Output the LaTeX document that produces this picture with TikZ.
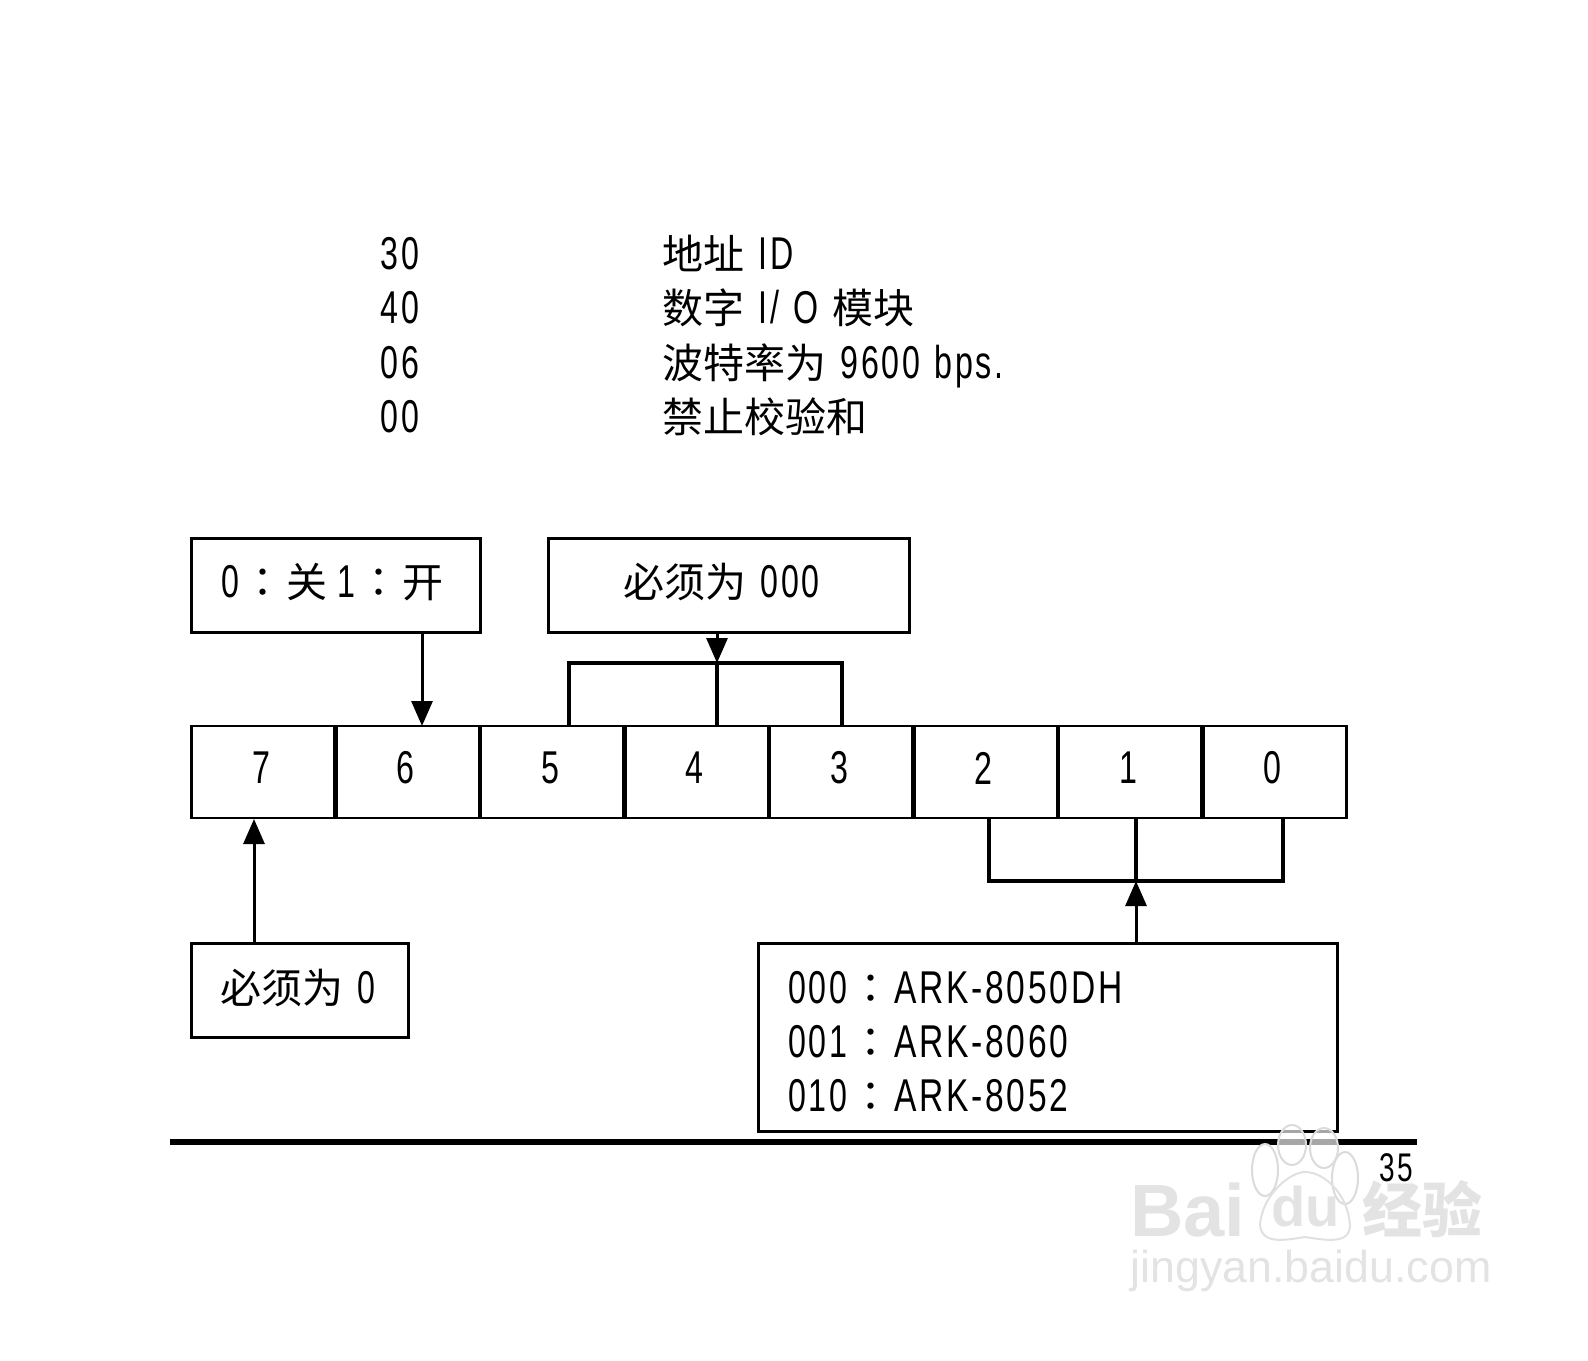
\documentclass[tikz,border=0pt]{standalone}
\usepackage{fontspec}
\usetikzlibrary{arrows.meta}
\setmainfont[FakeStretch=0.7,LetterSpace=6,WordSpace=1.2]{Liberation Sans}
\newfontfamily\arkfont[FakeStretch=0.73,LetterSpace=6]{Liberation Sans}
\newfontfamily\cjk{Noto Sans CJK SC}
\newfontfamily\cjktc{Noto Sans CJK TC}
\newfontfamily\wm{Liberation Sans}
\newfontfamily\wmcjk{Noto Sans CJK SC}
\newcommand{\zh}[1]{{\cjk\fontsize{20.5}{27}\selectfont #1}}
\newcommand{\colonzh}{\hspace{1.5pt}{\cjktc\fontsize{20.5}{27}\selectfont ：}\hspace{1.5pt}}
\newcommand{\lift}[2]{\raisebox{#1}[\height][\depth]{#2}}
\tikzset{
  x=0.5pt,y=-0.5pt,
  txt/.style={inner sep=0pt,anchor=base west,font=\fontsize{23}{27}\selectfont},
  boxed/.style={draw=black,line width=1.5pt,fill=white,inner sep=0pt,font=\fontsize{23}{27}\selectfont,text=black},
  cell/.style={boxed,line width=1.4pt,minimum width=71.6pt,minimum height=46pt},
  brk/.style={draw=black,line width=1.9pt},
  head/.style={-{Triangle[length=12.5pt,width=10.5pt]},draw=black,line width=1.5pt},
  wmtxt/.style={inner sep=0pt,anchor=base west,text=black!11},
  toe/.style={draw=black!14,line width=1pt,fill=white,fill opacity=.65}
}
\begin{document}
\begin{tikzpicture}
\useasboundingbox (0,0) rectangle (1588,1360);
% top table
\node[txt] (a1) at (380,269) {30};
\node[txt] (a2) at (380,323) {40};
\node[txt] (a3) at (380,378) {06};
\node[txt] (a4) at (380,432) {00};
\node[txt] (b1) at (662,269) {\zh{地址} ID};
\node[txt] (b2) at (662,323) {\zh{数字} I/ O \zh{模块}};
\node[txt] (b3) at (662,378) {\zh{波特率为} 9600 bps.};
\node[txt] (b4) at (662,432) {\zh{禁止校验和}};
% boxes
\node[boxed,minimum width=144.5pt,minimum height=47pt] (on) at (335.5,585) {\lift{1.5pt}{0\colonzh\zh{关}\hspace{5pt}1\colonzh\zh{开}}\kern3pt};
\node[boxed,minimum width=180.5pt,minimum height=47pt] (must3) at (728.5,585) {\lift{1.5pt}{\zh{必须为} 000}\kern7pt};
\node[boxed,minimum width=108.5pt,minimum height=47pt] (must1) at (299.5,990.5) {\lift{1.5pt}{\zh{必须为} 0}\kern1.5pt};
\node[boxed,minimum width=289.5pt,minimum height=94pt,align=left,text width=259.5pt,inner xsep=15pt] (ark) at (1047.5,1037)
 {\lift{-2.5pt}{000\colonzh{\arkfont ARK-8050DH}}\\\lift{-2.5pt}{001\colonzh{\arkfont ARK-8060}}\\\lift{-2.5pt}{010\colonzh{\arkfont ARK-8052}}};
% register cells
\foreach \n/\i in {7/0,6/1,5/2,4/3,3/4,2/5,1/6,0/7}{
  \node[cell] (c\n) at ({191+72.25+144.5*\i},772) {\lift{2pt}{\n}\kern2pt};
}
% arrows to cell 6 and cell 7
\coordinate (p6) at (422,726);
\draw[head] (on.south -| p6) -- (p6);
\coordinate (p7) at (254,819);
\draw[head] (must1.north -| p7) -- (p7);
% upper bracket
\coordinate (u5) at (569,726);
\coordinate (u4) at (717,726);
\coordinate (u3) at (842,726);
\coordinate (ut) at (717,663);
\draw[brk] (u5) -- (u5 |- ut) -- (u3 |- ut) -- (u3);
\draw[brk] (u4) -- (ut);
\draw[head] (must3.south -| ut) -- (ut);
% lower bracket
\coordinate (l2) at (989,818);
\coordinate (l1) at (1136,818);
\coordinate (l0) at (1283,818);
\coordinate (lb) at (1136,881);
\draw[brk] (l2) -- (l2 |- lb) -- (l0 |- lb) -- (l0);
\draw[brk] (l1) -- (lb);
\draw[head] (ark.north -| lb) -- (lb);
% rule and page number
\coordinate (r0) at (170,1142);
\coordinate (r1) at (1417,1142);
\draw[draw=black,line width=3pt] (r0) -- (r1);
% watermark
\draw[toe] (1292,1145) ellipse [x radius=14,y radius=20];
\draw[toe] (1324,1148) ellipse [x radius=14,y radius=20];
\draw[toe] (1265,1170) ellipse [x radius=13,y radius=26];
\draw[toe] (1345,1178) ellipse [x radius=13,y radius=26];
\draw[draw=black!12,line width=1pt] (1260,1225) .. controls (1262,1195) and (1290,1172) .. (1305,1172) .. controls (1325,1172) and (1348,1195) .. (1350,1225) .. controls (1350,1245) and (1325,1240) .. (1305,1237) .. controls (1285,1240) and (1262,1245) .. (1260,1225);
\node[wmtxt,font=\wm\fontsize{37}{40}\selectfont\bfseries] (wb) at (1130,1236) {Bai};
\node[wmtxt,font=\wm\fontsize{28}{32}\selectfont\bfseries] (wd) at (1271,1226) {du};
\node[wmtxt,font=\wmcjk\fontsize{30}{32}\selectfont\bfseries] (wj) at (1362,1232) {经验};
\node[wmtxt,font=\wm\fontsize{22.4}{26}\selectfont] (wu) at (1130,1282) {jingyan.baidu.com};
\node[txt,font=\fontsize{20}{22}\selectfont] (pg) at (1379,1181) {35};
\end{tikzpicture}
\end{document}
